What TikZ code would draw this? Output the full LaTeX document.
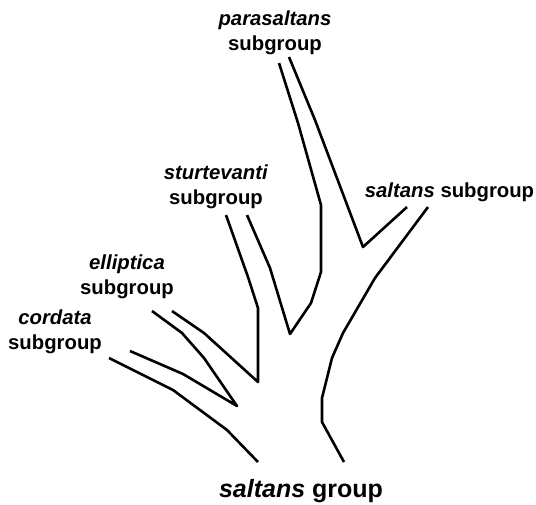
\documentclass[tikz,border=0pt]{standalone}
\usepackage{fontspec}
\setmainfont{Liberation Sans}
\begin{document}
\begin{tikzpicture}[x=1pt,y=-1pt,
  branch/.style={line width=2.6pt,line join=round,line cap=butt},
  lab/.style={font=\fontsize{20.3}{25}\selectfont\bfseries,align=center,inner sep=0pt},
  biglab/.style={font=\fontsize{25}{30}\selectfont\bfseries,inner sep=0pt}]
\useasboundingbox (0,0) rectangle (536,504);
% labels
\node[lab] (para) at (275,32.5) {\textit{parasaltans}\\subgroup};
\node[lab] (sturt) at (216,187) {\textit{sturtevanti}\\subgroup};
\node[lab] (ellip) at (127,276.5) {\textit{elliptica}\\subgroup};
\node[lab] (cord) at (55,331.5) {\textit{cordata}\\subgroup};
\node[lab] (salsub) at (449.5,192) {\textit{saltans} subgroup};
\node[biglab] (salgrp) at (301,491) {\textit{saltans} group};
% tree outline
\draw[branch] (109,358) -- (173,390) -- (227,430) -- (258,462);
\draw[branch] (130,351) -- (183,374) -- (237,406) -- (204,358) -- (182,333) -- (152,311);
\draw[branch] (172,311) -- (204,333) -- (258,382) -- (258,308) -- (248,277) -- (226,215);
\draw[branch] (247,215) -- (270,268) -- (290,334) -- (311,303) -- (321,272) -- (321,205) -- (298,123) -- (279,63);
\draw[branch] (289,57) -- (315,120) -- (363,247) -- (407,207);
\draw[branch] (428,207) -- (375,278) -- (343,333) -- (332,358) -- (322,398) -- (322,422) -- (344,462);
\end{tikzpicture}
\end{document}
